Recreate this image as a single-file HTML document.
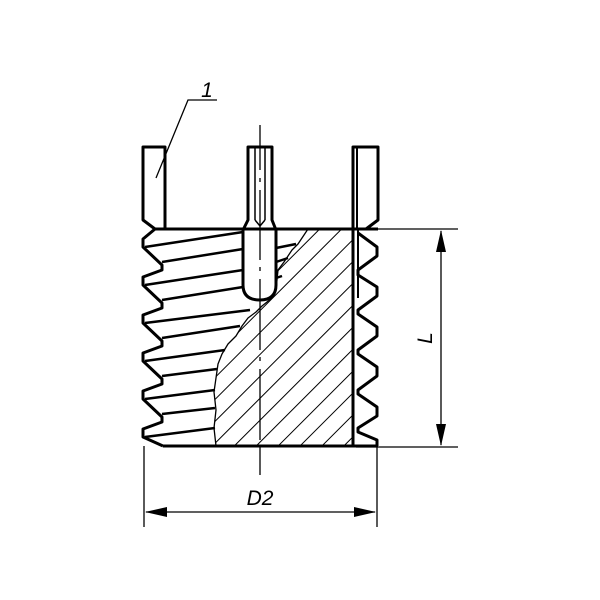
<!DOCTYPE html>
<html><head><style>body{margin:0;background:#fff}svg{display:block}</style></head><body>
<svg width="600" height="600" viewBox="0 0 600 600" xmlns="http://www.w3.org/2000/svg" font-family="Liberation Sans, sans-serif">
<defs>
<pattern id="h" patternUnits="userSpaceOnUse" width="15.5" height="15.5" patternTransform="rotate(45)">
<line x1="0" y1="0" x2="0" y2="15.5" stroke="#000" stroke-width="2"/>
</pattern>
</defs>
<g fill="none" stroke="#000" stroke-linejoin="round">
<path d="M308,229 L302,238 L298,244 L292,250 L288,256 L284,262 L278,270 L276,290 L272,298 L262,306 L256,312 L248,318 L242,326 L236,336 L228,344 L222,354 L218,364 L216,378 L214,392 L216,410 L214,428 L216,446 L353,446 L353,229 Z" fill="url(#h)" stroke-width="1.3"/>
<path d="M143,147 L165,147 L165,229 L155,229 L143,220 Z" stroke-width="3"/>
<path d="M353,147 L378,147 L378,220 L366,229 L357,229 L353,229 Z" stroke-width="3"/>
<line x1="357" y1="147" x2="357" y2="229" stroke-width="2"/>
<path d="M248,147 L272,147 L272,220 L276,230 L276,285 Q276,300 260,300 Q243,300 243,285 L243,230 L248,220 Z" fill="#fff" stroke-width="3"/>
<line x1="255" y1="147" x2="255" y2="220" stroke-width="1.5"/>
<line x1="265" y1="147" x2="265" y2="220" stroke-width="1.5"/>
<path d="M255,220 L260,226 L265,220" stroke-width="1.5"/>
<line x1="155" y1="229" x2="378" y2="229" stroke-width="3"/>
<line x1="163" y1="446" x2="378" y2="446" stroke-width="3"/>
<path d="M155,229 L143,239 L143,247 L162,265 L162,270 L143,277 L143,285 L162,303 L162,308 L143,315 L143,323 L162,341 L162,346 L143,353 L143,361 L162,379 L162,384 L143,391 L143,399 L162,417 L162,422 L143,429 L143,437 L163,446" stroke-width="3"/>
<g stroke-width="2.5">
<line x1="145" y1="247" x2="243" y2="232"/>
<line x1="162" y1="262" x2="243" y2="249"/>
<line x1="145" y1="285" x2="243" y2="270"/>
<line x1="162" y1="300" x2="243" y2="287"/>
<line x1="276" y1="248" x2="296" y2="244"/>
<line x1="276" y1="262" x2="288" y2="258"/>
<line x1="276" y1="278" x2="282" y2="276"/>
<line x1="145" y1="323" x2="250" y2="310"/>
<line x1="162" y1="338" x2="240" y2="326"/>
<line x1="145" y1="361" x2="225" y2="350"/>
<line x1="162" y1="376" x2="217" y2="369"/>
<line x1="145" y1="399" x2="215" y2="390"/>
<line x1="162" y1="414" x2="215" y2="408"/>
<line x1="145" y1="437" x2="215" y2="428"/>
</g>
<line x1="353" y1="229" x2="353" y2="446" stroke-width="3"/>
<line x1="358" y1="229" x2="358" y2="298" stroke-width="2"/>
<path d="M358,233 L377,247 L377,256 L358,270 L358,275 L377,287 L377,296 L358,310 L358,314 L377,327 L377,336 L358,350 L358,354 L377,367 L377,376 L358,390 L358,394 L377,407 L377,416 L358,428 L358,432 L377,440 L377,446" stroke-width="3"/>
</g>
<g stroke="#000" fill="none" stroke-width="1.3">
<path d="M260,125 L260,170 M260,178 L260,182 M260,190 L260,260 M260,267 L260,271 M260,279 L260,350 M260,357 L260,361 M260,369 L260,440 M260,446 L260,475" />
<line x1="144" y1="446" x2="144" y2="527"/>
<line x1="377" y1="446" x2="377" y2="527"/>
<line x1="356" y1="229" x2="458" y2="229"/>
<line x1="356" y1="447" x2="458" y2="447"/>
<line x1="146" y1="512" x2="375" y2="512"/>
<line x1="441" y1="231" x2="441" y2="445"/>
<path d="M156,178 L188,100 L217,100"/>
</g>
<g fill="#000">
<path d="M145,512 L167,507 L167,517 Z"/>
<path d="M376,512 L354,507 L354,517 Z"/>
<path d="M441,230 L436,252 L446,252 Z"/>
<path d="M441,446 L436,424 L446,424 Z"/>
</g>
<g font-style="italic" fill="#000">
<text x="260" y="505" font-size="21" text-anchor="middle">D2</text>
<text x="207" y="97" font-size="21" text-anchor="middle">1</text>
<text transform="translate(432,338) rotate(-90)" font-size="21" text-anchor="middle">L</text>
</g>
</svg>
</body></html>
